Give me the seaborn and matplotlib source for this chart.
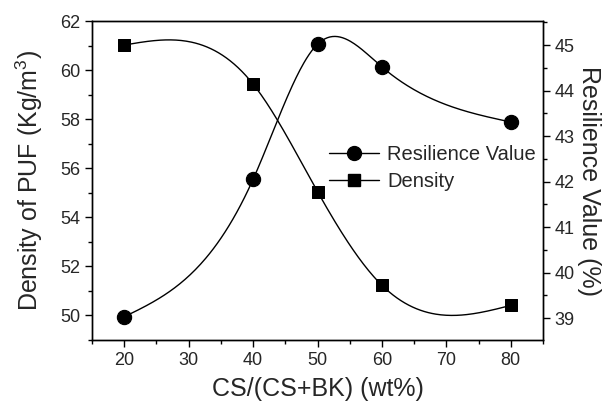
import numpy as np
import pandas as pd
import matplotlib
matplotlib.use("Agg")
import matplotlib.pyplot as plt
from matplotlib.lines import Line2D
from matplotlib.ticker import MultipleLocator
import seaborn as sns

# CS content in the CS/BK blend (wt%)
cs_ratio = [20, 40, 50, 60, 80]
density = [61.02, 59.43, 55.05, 51.23, 50.41]     # Kg/m^3
resilience = [39.03, 42.05, 45.02, 44.52, 43.31]  # %


def natural_spline(x, y, n=300):
    """Natural cubic spline through (x, y), evaluated on a dense grid."""
    x = np.asarray(x, float)
    y = np.asarray(y, float)
    k = len(x)
    h = np.diff(x)
    A = np.zeros((k, k))
    b = np.zeros(k)
    A[0, 0] = A[-1, -1] = 1.0
    for i in range(1, k - 1):
        A[i, i - 1] = h[i - 1]
        A[i, i] = 2 * (h[i - 1] + h[i])
        A[i, i + 1] = h[i]
        b[i] = 3 * ((y[i + 1] - y[i]) / h[i] - (y[i] - y[i - 1]) / h[i - 1])
    c = np.linalg.solve(A, b)
    xs = np.linspace(x[0], x[-1], n)
    ys = np.empty_like(xs)
    for j, xv in enumerate(xs):
        i = min(np.searchsorted(x, xv, side="right") - 1, k - 2)
        dx = xv - x[i]
        bi = (y[i + 1] - y[i]) / h[i] - h[i] * (2 * c[i] + c[i + 1]) / 3
        di = (c[i + 1] - c[i]) / (3 * h[i])
        ys[j] = y[i] + bi * dx + c[i] * dx ** 2 + di * dx ** 3
    return xs, ys


sns.set_theme(style="white")
plt.rcParams["font.family"] = ["Liberation Sans", "DejaVu Sans"]
plt.rcParams["mathtext.fontset"] = "custom"
plt.rcParams["mathtext.rm"] = "Liberation Sans"

fig = plt.figure(figsize=(6.08, 4.07), dpi=100)
ax = fig.add_axes([92 / 608, 1 - 340 / 407, 451 / 608, 319 / 407])
ax2 = ax.twinx()

xs, ys = natural_spline(cs_ratio, density)
sns.lineplot(x=xs, y=ys, ax=ax, color="black", lw=1.0)
sns.scatterplot(x=cs_ratio, y=density, ax=ax, marker="s", s=81,
                color="black", edgecolor="black", zorder=3)

xr, yr = natural_spline(cs_ratio, resilience)
sns.lineplot(x=xr, y=yr, ax=ax2, color="black", lw=1.0)
sns.scatterplot(x=cs_ratio, y=resilience, ax=ax2, marker="o", s=105,
                color="black", edgecolor="black", zorder=3)

ax.set_xlim(15, 85)
ax.set_ylim(49.0, 62.0)
ax2.set_ylim(38.52, 45.53)

ax.xaxis.set_major_locator(MultipleLocator(10))
ax.xaxis.set_minor_locator(MultipleLocator(5))
ax.yaxis.set_major_locator(MultipleLocator(2))
ax.yaxis.set_minor_locator(MultipleLocator(1))
ax2.yaxis.set_major_locator(MultipleLocator(1))
ax2.yaxis.set_minor_locator(MultipleLocator(0.5))
ax.set_xticks([20, 30, 40, 50, 60, 70, 80])

for a in (ax, ax2):
    for sp in a.spines.values():
        sp.set_color("black")
        sp.set_linewidth(1.0)
ax.tick_params(axis="both", which="major", direction="out", length=5,
               width=1, color="black", labelsize=13, left=True, bottom=True)
ax.tick_params(axis="both", which="minor", direction="out", length=3,
               width=1, color="black", left=True, bottom=True)
ax2.tick_params(axis="y", which="major", direction="out", length=5,
                width=1, color="black", labelsize=13, right=True)
ax2.tick_params(axis="y", which="minor", direction="out", length=3,
                width=1, color="black", right=True)

ax.set_xlabel("CS/(CS+BK) (wt%)", fontsize=18, labelpad=6)
ax.set_ylabel("Density of PUF (Kg/m$^3$)", fontsize=18, labelpad=11)
ax2.set_ylabel("Resilience Value (%)", fontsize=18, rotation=270, labelpad=19)

handles = [
    Line2D([], [], color="black", lw=1, marker="o", markersize=10),
    Line2D([], [], color="black", lw=1, marker="s", markersize=9),
]
ax.legend(handles, ["Resilience Value", "Density"], loc="upper left",
          bbox_to_anchor=(0.5255, 0.61), frameon=False, fontsize=14.5,
          handlelength=2.5, handletextpad=0.4, labelspacing=0.38,
          borderaxespad=0, borderpad=0)

fig.savefig("out.png", dpi=100)
